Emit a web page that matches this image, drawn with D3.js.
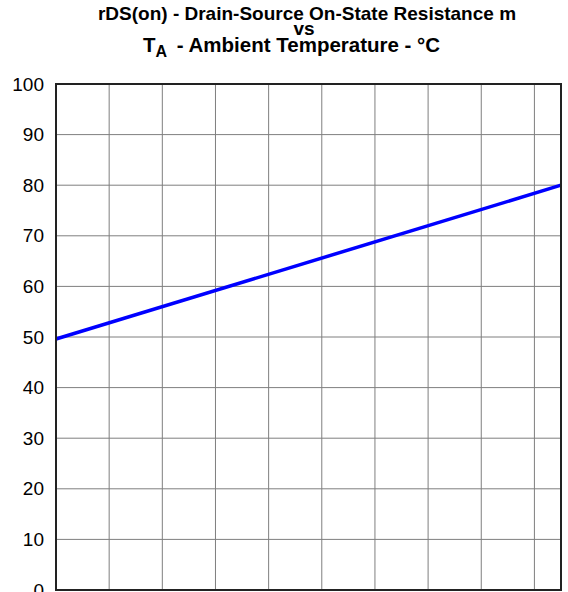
<!DOCTYPE html>
<html>
<head>
<meta charset="utf-8">
<script src="https://cdn.jsdelivr.net/npm/d3@7"></script>
<style>
  html, body { margin: 0; padding: 0; background: #fff; }
  svg { display: block; }
  text { font-family: "Liberation Sans", Arial, sans-serif; }
</style>
</head>
<body>
<svg id="chart" width="568" height="592"></svg>
<script>
// Ambient temperature (°C) and on-state resistance (mΩ)
const temperature = [-40, 150];
const resistance = [49.6, 80];

const xDomain = [-40, 150];
const xGridTicks = [-20, 0, 20, 40, 60, 80, 100, 120, 140];
const yDomain = [0, 100];
const yTicks = [0, 10, 20, 30, 40, 50, 60, 70, 80, 90, 100];

const titleLines = ["rDS(on) - Drain-Source On-State Resistance m", "vs"];

const W = 568, H = 592;
const margin = { left: 56, right: 7, top: 84, bottom: 2 };

const svg = d3.select("#chart");

const x = d3.scaleLinear().domain(xDomain).range([margin.left, W - margin.right]);
const y = d3.scaleLinear().domain(yDomain).range([H - margin.bottom, margin.top]);

// grid
const grid = svg.append("g").attr("stroke", "#7f7f7f").attr("stroke-width", 1);
grid.selectAll("line.v").data(xGridTicks).join("line")
  .attr("class", "v")
  .attr("x1", d => x(d)).attr("x2", d => x(d))
  .attr("y1", y(yDomain[0])).attr("y2", y(yDomain[1]));
grid.selectAll("line.h").data(yTicks.slice(1, -1)).join("line")
  .attr("class", "h")
  .attr("x1", x(xDomain[0])).attr("x2", x(xDomain[1]))
  .attr("y1", d => y(d)).attr("y2", d => y(d));

// y axis labels
const yAxis = d3.axisLeft(y).tickValues(yTicks).tickSize(0).tickPadding(12);
const gy = svg.append("g").attr("transform", `translate(${margin.left},0)`).call(yAxis);
gy.select(".domain").remove();
gy.selectAll("text")
  .attr("font-family", "Liberation Sans, Arial, sans-serif")
  .attr("font-size", 19).attr("fill", "#000");

// data line
const pts = temperature.map((t, i) => [t, resistance[i]]);
svg.append("path")
  .datum(pts)
  .attr("fill", "none")
  .attr("stroke", "#0000ff")
  .attr("stroke-width", 3.5)
  .attr("d", d3.line().x(d => x(d[0])).y(d => y(d[1])));

// plot frame
svg.append("rect")
  .attr("x", x(xDomain[0])).attr("y", y(yDomain[1]))
  .attr("width", x(xDomain[1]) - x(xDomain[0]))
  .attr("height", y(yDomain[0]) - y(yDomain[1]))
  .attr("fill", "none").attr("stroke", "#222").attr("stroke-width", 2);

// title
const cx = 307;
const title = svg.append("g").attr("font-weight", "bold").attr("font-size", 19)
  .attr("fill", "#000");
title.append("text").attr("x", cx).attr("y", 20).attr("text-anchor", "middle").text(titleLines[0]);
title.append("text").attr("x", cx - 3).attr("y", 34.5).attr("text-anchor", "middle").text(titleLines[1]);
const t3 = title.append("text").attr("x", 143).attr("y", 52).attr("font-size", 20.5);
t3.append("tspan").text("T");
t3.append("tspan").attr("font-size", 16).attr("dy", 5).text("A");
t3.append("tspan").attr("dy", -5).attr("dx", 4).text(" - Ambient Temperature - °C");
</script>
</body>
</html>
